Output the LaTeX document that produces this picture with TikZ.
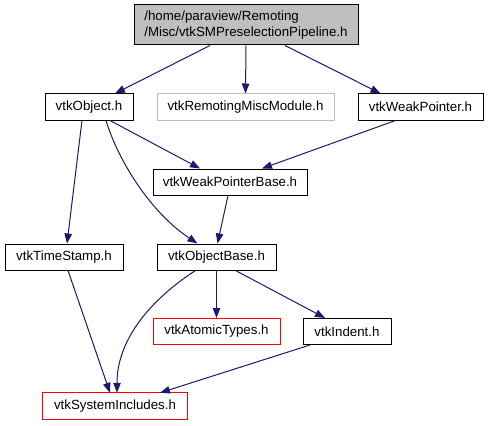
\documentclass[tikz,border=0pt]{standalone}
\usepackage{fontspec}
\setmainfont{Liberation Sans}
\usetikzlibrary{arrows.meta}
\definecolor{edgeblue}{HTML}{191970}
\definecolor{boxgray}{HTML}{BFBFBF}
\definecolor{boxred}{HTML}{FF0000}
\tikzset{
  file/.style={draw=black, line width=1pt, inner sep=0pt, minimum height=26pt, font=\fontsize{13.3}{16}\selectfont},
  redfile/.style={file, draw=boxred},
  grayfile/.style={file, draw=boxgray},
  dep/.style={draw=edgeblue, line width=1pt, -{Triangle[length=10pt,width=7.5pt]}, color=edgeblue}
}
\begin{document}
\begin{tikzpicture}[x=1pt,y=-1pt]
\useasboundingbox (0,0) rectangle (489,425);
\node[file, fill=boxgray, minimum width=224pt, minimum height=40pt, align=left] (top) at (246,25) {/home/paraview/Remoting\\/Misc/vtkSMPreselectionPipeline.h};
\node[file, minimum width=88pt] (obj) at (89,107) {vtkObject.h};
\node[grayfile, minimum width=177pt] (rem) at (245.5,107) {vtkRemotingMiscModule.h};
\node[file, minimum width=125pt] (wp) at (420.5,107) {vtkWeakPointer.h};
\node[file, minimum width=154pt] (wpb) at (230,182) {vtkWeakPointerBase.h};
\node[file, minimum width=118pt] (ts) at (64,257) {vtkTimeStamp.h};
\node[file, minimum width=119pt] (ob) at (216.5,257) {vtkObjectBase.h};
\node[redfile, minimum width=127pt] (at) at (216.5,331.5) {vtkAtomicTypes.h};
\node[file, minimum width=88pt] (ind) at (347,331.5) {vtkIndent.h};
\node[font=\fontsize{13.3}{16}\selectfont, inner sep=0pt, minimum width=144pt, minimum height=26pt] (si) at (115,406) {vtkSystemIncludes.h};
\draw[draw=boxred, line width=1pt] (si.south west) rectangle (si.north east);

\draw[dep] ([xshift=-36pt]top.south) -- ([xshift=26pt]obj.north);
\draw[dep] (top.south) -- (rem.north);
\draw[dep] ([xshift=39pt]top.south) -- ([xshift=-40pt]wp.north);
\draw[dep] ([xshift=21pt]obj.south) -- ([xshift=-30pt]wpb.north);
\draw[dep] ([xshift=17pt]obj.south) .. controls (118,160) and (150,212) .. ([xshift=-19pt]ob.north);
\draw[dep] ([xshift=-7pt]obj.south) -- ([xshift=3pt]ts.north);
\draw[dep] ([xshift=-25pt]wp.south) -- ([xshift=32pt]wpb.north);
\draw[dep] ([xshift=-2pt]wpb.south) -- ([xshift=1pt]ob.north);
\draw[dep] ([xshift=4pt]ts.south) -- ([xshift=-5pt]si.north);
\draw[dep] ([xshift=-21pt]ob.south) .. controls (150,300) and (117,340) .. ([xshift=2pt]si.north);
\draw[dep] (ob.south) -- (at.north);
\draw[dep] ([xshift=19pt]ob.south) -- ([xshift=-22pt]ind.north);
\draw[dep] ([xshift=-37pt]ind.south) -- ([xshift=45pt]si.north);
\end{tikzpicture}
\end{document}
